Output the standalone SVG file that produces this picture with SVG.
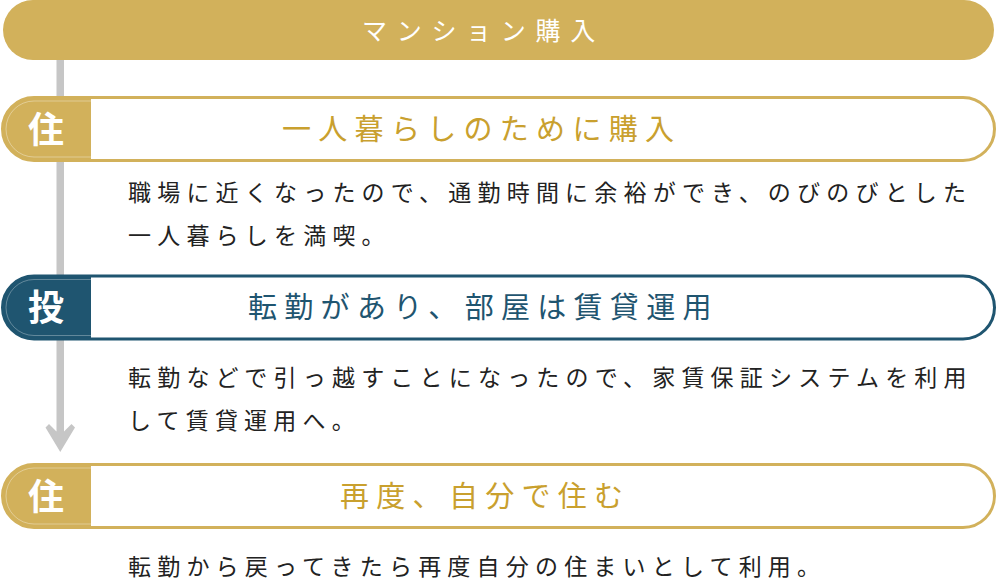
<svg xmlns="http://www.w3.org/2000/svg" width="997" height="580" viewBox="0 0 997 580">
<style>
.jp{font-family:"Noto Sans CJK JP","Noto Sans CJK SC",sans-serif;}
.title{font-size:29px;letter-spacing:7.3px;}
.desc{font-size:23px;letter-spacing:6.2px;fill:#222;}
.badge{font-size:36px;fill:#fff;font-weight:bold;text-anchor:middle;}
.gold{fill:#C9A02E;}
.teal{fill:#1F5570;}
</style>
<defs>
<clipPath id="pill"><rect x="2.5" y="0" width="992" height="63" rx="31.5"/></clipPath>
</defs>
<g id="connectors">
<polygon points="56.5,60 64,60 64,431.5 71.5,424 75,427.5 60.25,452 45.5,427.5 49,424 56.5,431.5" fill="#C6C6C6"/>
</g>
<g id="top">
<rect x="3" y="0" width="991" height="60" rx="30" fill="#D2B15B"/>
<text class="jp" x="362" y="39.5" font-size="25" letter-spacing="9.7" fill="#fff">マンション購入</text>
</g>
<g id="step1">
<g transform="translate(0,97.5)">
<rect x="2.5" y="0" width="992" height="63" rx="31.5" fill="#fff"/>
<g clip-path="url(#pill)"><rect x="0" y="0" width="91" height="63" fill="#D2B15B"/></g>
<path d="M91,3.5 H34 A28,28 0 0 0 34,59.5 H91" fill="none" stroke="#fff" stroke-opacity="0.35" stroke-width="1"/>
<rect x="2.5" y="0" width="992" height="63" rx="31.5" fill="none" stroke="#D2B15B" stroke-width="3"/>
</g>
<text class="jp badge" x="46" y="143">住</text>
<text class="jp title gold" x="282" y="139.5" letter-spacing="8.1">一人暮らしのために購入</text>
<text class="jp desc" x="128" y="200.5">職場に近くなったので、通勤時間に余裕ができ、のびのびとした</text>
<text class="jp desc" x="128" y="244">一人暮らしを満喫。</text>
</g>
<g id="step2">
<g transform="translate(0,276)">
<rect x="2.5" y="0" width="992" height="63" rx="31.5" fill="#fff"/>
<g clip-path="url(#pill)"><rect x="0" y="0" width="91" height="63" fill="#1F5570"/></g>
<path d="M91,3.5 H34 A28,28 0 0 0 34,59.5 H91" fill="none" stroke="#fff" stroke-opacity="0.3" stroke-width="1"/>
<rect x="2.5" y="0" width="992" height="63" rx="31.5" fill="none" stroke="#1F5570" stroke-width="3"/>
</g>
<text class="jp badge" x="46" y="321">投</text>
<text class="jp title teal" x="248" y="318">転勤があり、部屋は賃貸運用</text>
<text class="jp desc" x="128" y="385.5">転勤などで引っ越すことになったので、家賃保証システムを利用</text>
<text class="jp desc" x="128" y="428.5">して賃貸運用へ。</text>
</g>
<g id="step3">
<g transform="translate(0,464.5)">
<rect x="2.5" y="0" width="992" height="63" rx="31.5" fill="#fff"/>
<g clip-path="url(#pill)"><rect x="0" y="0" width="91" height="63" fill="#D2B15B"/></g>
<path d="M91,3.5 H34 A28,28 0 0 0 34,59.5 H91" fill="none" stroke="#fff" stroke-opacity="0.35" stroke-width="1"/>
<rect x="2.5" y="0" width="992" height="63" rx="31.5" fill="none" stroke="#D2B15B" stroke-width="3"/>
</g>
<text class="jp badge" x="46" y="510">住</text>
<text class="jp title gold" x="340" y="506.5">再度、自分で住む</text>
<text class="jp desc" x="128" y="574.5">転勤から戻ってきたら再度自分の住まいとして利用。</text>
</g>
</svg>
